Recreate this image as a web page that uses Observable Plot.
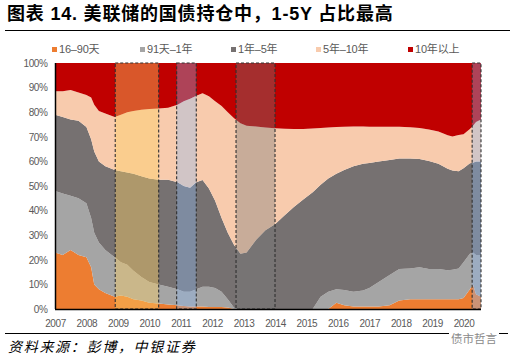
<!DOCTYPE html>
<html>
<head>
<meta charset="utf-8">
<script src="https://cdn.jsdelivr.net/npm/d3@7"></script>
<script src="https://cdn.jsdelivr.net/npm/@observablehq/plot@0.6"></script>
<style>
  html, body { margin: 0; padding: 0; background: #fff; }
  body { position: relative; width: 513px; height: 357px; overflow: hidden; font-family: "Liberation Sans", Arial, "Noto Sans CJK SC", sans-serif; }
  .abs { position: absolute; white-space: nowrap; }
  #title { left: 7px; top: 4px; font-weight: bold; font-size: 18px; line-height: 20px; font-family: "Liberation Sans", Arial, "Noto Sans CJK SC", sans-serif; color: #000; letter-spacing: 0.8px; }
  #rule1 { left: 5px; top: 30px; width: 505px; border-top: 1.5px solid #000; }
  .lg { top: 42px; font-size: 11px; color: #595959; line-height: 14px; letter-spacing: -0.2px; }
  .sw { display: inline-block; width: 5px; height: 5px; margin-right: 2px; vertical-align: 1px; }
  #chart { position: absolute; left: 0; top: 57px; }
  #rule2 { left: 5px; top: 333px; width: 503px; border-top: 1.5px solid #000; }
  #source { left: 8px; top: 337px; font-size: 14px; font-style: italic; letter-spacing: 1.7px; color: #000; font-family: "Noto Sans CJK SC", sans-serif; line-height: 18px; }
  #wm { left: 449px; top: 332px; font-size: 11.5px; color: #8a8a8a; background: #fff; padding: 0 2px; font-family: "Noto Sans CJK SC", sans-serif; line-height: 12px; }
</style>
</head>
<body>
<div id="title" class="abs">图表 14. 美联储的国债持仓中，1-5Y 占比最高</div>
<div id="rule1" class="abs"></div>
<div id="legend"></div>
<div id="chart"></div>
<div id="rule2" class="abs"></div>
<div id="source" class="abs">资料来源：彭博，中银证券</div>
<div id="wm" class="abs">债市哲言</div>
<script>
// ---- data (shares of Fed Treasury holdings, %) ----
const dates = ["2007-01-01","2007-04-01","2007-07-01","2007-10-01","2008-01-01","2008-02-25","2008-04-01","2008-05-25","2008-08-08","2008-11-25",
  "2009-02-05","2009-04-20","2009-07-01","2009-10-01","2010-01-01","2010-04-20","2010-08-08","2010-11-25","2011-02-05","2011-04-20",
  "2011-07-01","2011-09-12","2011-11-25","2012-02-05","2012-04-20","2012-07-01","2012-09-12","2012-11-25","2013-02-05","2013-05-25",
  "2013-09-12","2014-01-01","2014-04-20","2014-08-08","2014-11-25","2015-03-15","2015-06-15","2015-09-12","2015-12-15","2016-03-15",
  "2016-07-01","2016-10-20","2017-01-01","2017-04-20","2017-08-25","2017-12-15","2018-04-20","2018-08-08","2018-11-25","2019-03-15",
  "2019-07-01","2019-08-25","2019-11-05","2020-01-01","2020-03-15","2020-04-20","2020-05-25","2020-07-22"];
const d16to90 = [23,22,24,22,21,17,10,8,6.5,5, 5.5,5,4,3.5,2.5,2.2,1.8,1.5,1.2,1, 1,1,0.8,0.8,0.8,0.6,0,0,0,0, 0,0,0,0,0,0,0,0,2.5,1.5, 1,1,1,1,1.5,3.5,4,4,4,4, 4,4,4,4.5,8,10,6,5];
const d91to1y = [25,25,22,23,22,20,21,19,17.5,16, 13.5,13,11.5,9.5,8.5,7.8,7.2,6.5,5.8,6, 7,8,8.2,7.7,6.2,3.4,0.5,0,0,0, 0,0,0,0,0,0,5,7,5.5,6.2, 6,6.5,7.5,10,12.3,12.8,12.5,13,12.3,12.3, 11.8,12,12.5,14.5,14.5,13,16,17];
const y1to5 = [31,31,31,31.5,31,32,33,33,34,35.5, 37,37.5,39.5,41,42,42.5,43.5,43.5,43,42.3, 43.5,43.4,40,35.5,30,27,25.5,22.5,23,28, 32,34.5,38,41.5,44.5,47.5,45.5,46,47,48.8, 51,51.5,50.8,49,46.8,44.9,44.7,44,43.9,42.7, 41.2,40.3,39.5,38.2,36.7,36.5,38,38];
const y5to10 = [9.5,10.5,12,11.5,13,17,19,20.5,21.5,21.5, 23,24.5,25.5,27,28.3,29,29.3,31.5,34.5,36.2, 35.2,35.3,37.5,40.5,45.5,49,51.5,53,51.5,46.2, 41.8,39,35.3,31.7,28.7,25.9,23.1,20.8,19,17.6, 16.2,15.2,14.8,14.1,13.5,12.9,12.7,12.6,12.8,13.2, 13.6,13.8,14.7,13.8,14,15,16,17];
const y10plus = [11.5,11.5,11,12,13,14,17,19.5,20.5,22, 21,20,19.5,19,18.7,18.5,18.2,17,15.5,14.5, 13.3,12.3,13.5,15.5,17.5,20,22.5,24.5,25.5,25.8, 26.2,26.5,26.7,26.8,26.8,26.6,26.4,26.2,26,25.9, 25.8,25.8,25.9,25.9,25.9,25.9,26.1,26.4,27,27.8, 29.4,29.9,29.3,29,26.8,25.5,24,23];
const seriesNames = ["16–90天","91天–1年","1年–5年","5年–10年","10年以上"];
const yTicks = [0,10,20,30,40,50,60,70,80,90,100];
const xTickYears = ["2007","2008","2009","2010","2011","2012","2013","2014","2015","2016","2017","2018","2019","2020"];
// highlighted periods
const periodStarts = ["2008-12-01","2010-11-15","2012-10-05","2020-04-10"];
const periodEnds   = ["2010-04-20","2011-07-01","2014-01-01","2020-07-22"];

// ---- styles ----
const seriesColors = ["#ED7D31","#A5A5A5","#767171","#F8CBAD","#C00000"];
const periodFills = ["rgb(252,207,100)","rgb(140,185,245)","rgb(120,120,120)","rgb(140,185,245)"];
const periodOpacity = [0.42,0.36,0.38,0.36];

// ---- build tables ----
const valueArrays = [d16to90, d91to1y, y1to5, y5to10, y10plus];
const rows = [];
dates.forEach((d, i) => valueArrays.forEach((arr, k) => rows.push({date: new Date(d), series: seriesNames[k], value: arr[i]})));
const periods = periodStarts.map((s, i) => ({start: new Date(s), end: new Date(periodEnds[i]), fill: periodFills[i], op: periodOpacity[i]}));
const xDomain = [new Date(dates[0]), new Date(dates[dates.length - 1])];

// ---- legend ----
const lx = [52, 140, 231, 316, 408];
const legend = document.getElementById("legend");
seriesNames.forEach((n, i) => {
  const el = document.createElement("div");
  el.className = "abs lg";
  el.style.left = lx[i] + "px";
  el.innerHTML = `<span class="sw" style="background:${seriesColors[i]}"></span>${n}`;
  legend.appendChild(el);
});

// ---- chart ----
const chart = Plot.plot({
  width: 513,
  height: 273,
  marginLeft: 55,
  marginRight: 32,
  marginTop: 6,
  marginBottom: 21,
  style: {fontFamily: "'Liberation Sans', Arial, sans-serif", fontSize: "10px", color: "#595959", background: "transparent", letterSpacing: "-0.4px"},
  x: {type: "utc", domain: xDomain, ticks: xTickYears.map(y => new Date(y + "-01-01")), tickFormat: d3.utcFormat("%Y"), tickSize: 0, tickPadding: 10, label: null},
  y: {domain: [yTicks[0], yTicks[yTicks.length - 1]], ticks: yTicks, tickFormat: d => d + "%", tickSize: 0, tickPadding: 8, label: null},
  color: {domain: seriesNames, range: seriesColors},
  marks: [
    Plot.areaY(rows, {x: "date", y: "value", fill: "series", order: seriesNames, z: "series"}),
    Plot.rect(periods, {x1: "start", x2: "end", y1: yTicks[0], y2: yTicks[yTicks.length - 1], fill: d => d.fill, fillOpacity: d => d.op}),
    Plot.rect(periods, {x1: "start", x2: "end", y1: yTicks[0], y2: yTicks[yTicks.length - 1], fill: "none", stroke: "#303030", strokeWidth: 1.1, strokeDasharray: "3,2"}),
    Plot.ruleY([yTicks[0]], {stroke: "#000", strokeWidth: 1.5}),
    Plot.ruleX([xDomain[0]], {stroke: "#000", strokeWidth: 1.5})
  ]
});
document.getElementById("chart").appendChild(chart);
</script>
</body>
</html>
